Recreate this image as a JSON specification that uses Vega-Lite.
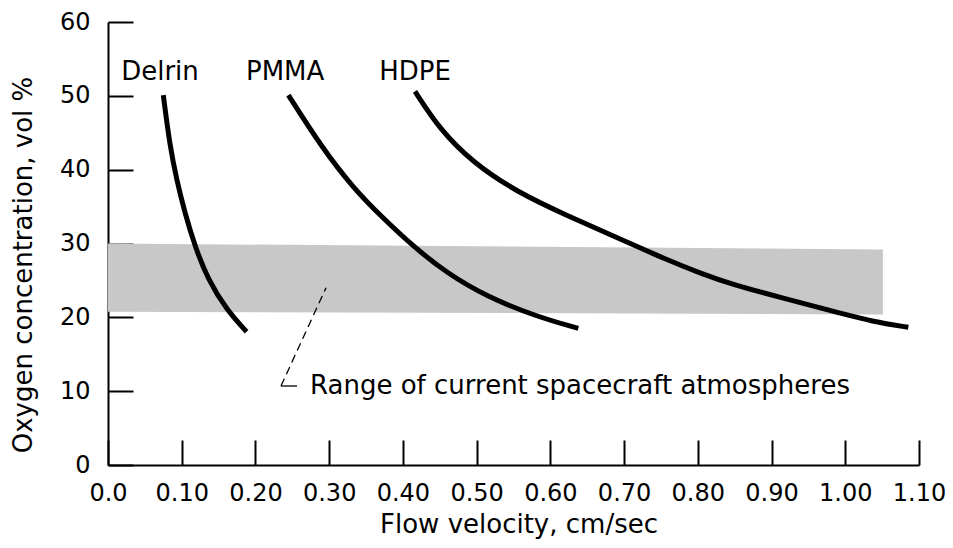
{
  "$schema": "https://vega.github.io/schema/vega-lite/v6.json",
  "width": 811,
  "height": 443,
  "autosize": {"type": "none"},
  "padding": {"left": 108, "top": 22, "right": 34, "bottom": 83},
  "background": "white",
  "config": {
    "view": {"stroke": null},
    "font": "DejaVu Sans",
    "axis": {
      "grid": false,
      "domainColor": "black",
      "domainWidth": 2,
      "tickColor": "black",
      "tickWidth": 2,
      "tickSize": -25,
      "labelColor": "black",
      "labelFontSize": 24,
      "labelFont": "DejaVu Sans",
      "labelFlush": false,
      "labelOverlap": false,
      "titleColor": "black",
      "titleFontSize": 26,
      "titleFont": "DejaVu Sans",
      "titleFontWeight": "normal"
    }
  },
  "layer": [
    {
      "data": {"values": [
        {"x": 0.0, "y": 30.0, "y2": 20.76},
        {"x": 1.051, "y": 29.2, "y2": 20.4}
      ]},
      "mark": {"type": "area", "color": "#c8c8c8", "interpolate": "linear"},
      "encoding": {
        "x": {"field": "x", "type": "quantitative", "scale": {"domain": [0, 1.1], "nice": false, "zero": true},
          "axis": {
            "title": "Flow velocity, cm/sec",
            "values": [0, 0.1, 0.2, 0.3, 0.4, 0.5, 0.6, 0.7, 0.8, 0.9, 1.0, 1.1],
            "labelExpr": "datum.value === 0 ? '0.0' : format(datum.value, '.2f')",
            "labelPadding": 41,
            "labelBaseline": "top",
            "titleX": 410.5,
            "titleY": 67,
            "titleAlign": "center",
            "titleBaseline": "alphabetic",
            "titleAnchor": null
          }},
        "y": {"field": "y", "type": "quantitative", "scale": {"domain": [0, 60], "nice": false},
          "axis": {
            "title": "Oxygen concentration, vol %",
            "values": [0, 10, 20, 30, 40, 50, 60],
            "labelPadding": 43,
            "titleAngle": -90,
            "titleX": -77,
            "titleY": 242.5,
            "titleAlign": "center",
            "titleBaseline": "alphabetic"
          }},
        "y2": {"field": "y2"}
      }
    },
    {
      "data": {"values": [
        {"series": "Delrin", "x": 0.075, "y": 50.1},
        {"series": "Delrin", "x": 0.0841, "y": 43.1},
        {"series": "Delrin", "x": 0.0932, "y": 38.6},
        {"series": "Delrin", "x": 0.1044, "y": 34.1},
        {"series": "Delrin", "x": 0.118, "y": 29.6},
        {"series": "Delrin", "x": 0.1356, "y": 25.1},
        {"series": "Delrin", "x": 0.161, "y": 21.0},
        {"series": "Delrin", "x": 0.188, "y": 18.05},
        {"series": "PMMA", "x": 0.2446, "y": 50.1},
        {"series": "PMMA", "x": 0.2893, "y": 43.1},
        {"series": "PMMA", "x": 0.3327, "y": 37.5},
        {"series": "PMMA", "x": 0.3734, "y": 33.4},
        {"series": "PMMA", "x": 0.4141, "y": 29.6},
        {"series": "PMMA", "x": 0.4594, "y": 26.0},
        {"series": "PMMA", "x": 0.5136, "y": 22.8},
        {"series": "PMMA", "x": 0.5815, "y": 20.1},
        {"series": "PMMA", "x": 0.6379, "y": 18.5},
        {"series": "HDPE", "x": 0.4164, "y": 50.6},
        {"series": "HDPE", "x": 0.4503, "y": 45.4},
        {"series": "HDPE", "x": 0.4955, "y": 40.9},
        {"series": "HDPE", "x": 0.5543, "y": 37.0},
        {"series": "HDPE", "x": 0.6222, "y": 33.8},
        {"series": "HDPE", "x": 0.69, "y": 30.8},
        {"series": "HDPE", "x": 0.7578, "y": 27.8},
        {"series": "HDPE", "x": 0.8029, "y": 26.0},
        {"series": "HDPE", "x": 0.8481, "y": 24.4},
        {"series": "HDPE", "x": 0.9159, "y": 22.6},
        {"series": "HDPE", "x": 0.9837, "y": 20.8},
        {"series": "HDPE", "x": 1.038, "y": 19.4},
        {"series": "HDPE", "x": 1.0855, "y": 18.65}
      ]},
      "mark": {"type": "line", "color": "black", "strokeWidth": 5, "interpolate": "basis", "strokeCap": "butt"},
      "encoding": {
        "x": {"field": "x", "type": "quantitative"},
        "y": {"field": "y", "type": "quantitative"},
        "detail": {"field": "series"}
      }
    },
    {
      "data": {"values": [
        {"x": 0.2957, "y": 24.0},
        {"x": 0.2346, "y": 10.7}
      ]},
      "mark": {"type": "line", "color": "black", "strokeWidth": 1.3, "strokeDash": [8, 5]},
      "encoding": {
        "x": {"field": "x", "type": "quantitative"},
        "y": {"field": "y", "type": "quantitative"}
      }
    },
    {
      "data": {"values": [
        {"x": 0.2346, "y": 10.7},
        {"x": 0.2563, "y": 10.7}
      ]},
      "mark": {"type": "line", "color": "black", "strokeWidth": 1.3},
      "encoding": {
        "x": {"field": "x", "type": "quantitative"},
        "y": {"field": "y", "type": "quantitative"}
      }
    },
    {
      "data": {"values": [
        {"x": 0.0705, "y": 53.2, "label": "Delrin"},
        {"x": 0.2403, "y": 53.2, "label": "PMMA"},
        {"x": 0.4164, "y": 53.2, "label": "HDPE"}
      ]},
      "mark": {"type": "text", "fontSize": 26, "font": "DejaVu Sans", "color": "black", "align": "center", "baseline": "middle"},
      "encoding": {
        "x": {"field": "x", "type": "quantitative"},
        "y": {"field": "y", "type": "quantitative"},
        "text": {"field": "label"}
      }
    },
    {
      "data": {"values": [
        {"x": 0.274, "y": 10.7, "label": "Range of current spacecraft atmospheres"}
      ]},
      "mark": {"type": "text", "fontSize": 26, "font": "DejaVu Sans", "color": "black", "align": "left", "baseline": "middle"},
      "encoding": {
        "x": {"field": "x", "type": "quantitative"},
        "y": {"field": "y", "type": "quantitative"},
        "text": {"field": "label"}
      }
    }
  ]
}
